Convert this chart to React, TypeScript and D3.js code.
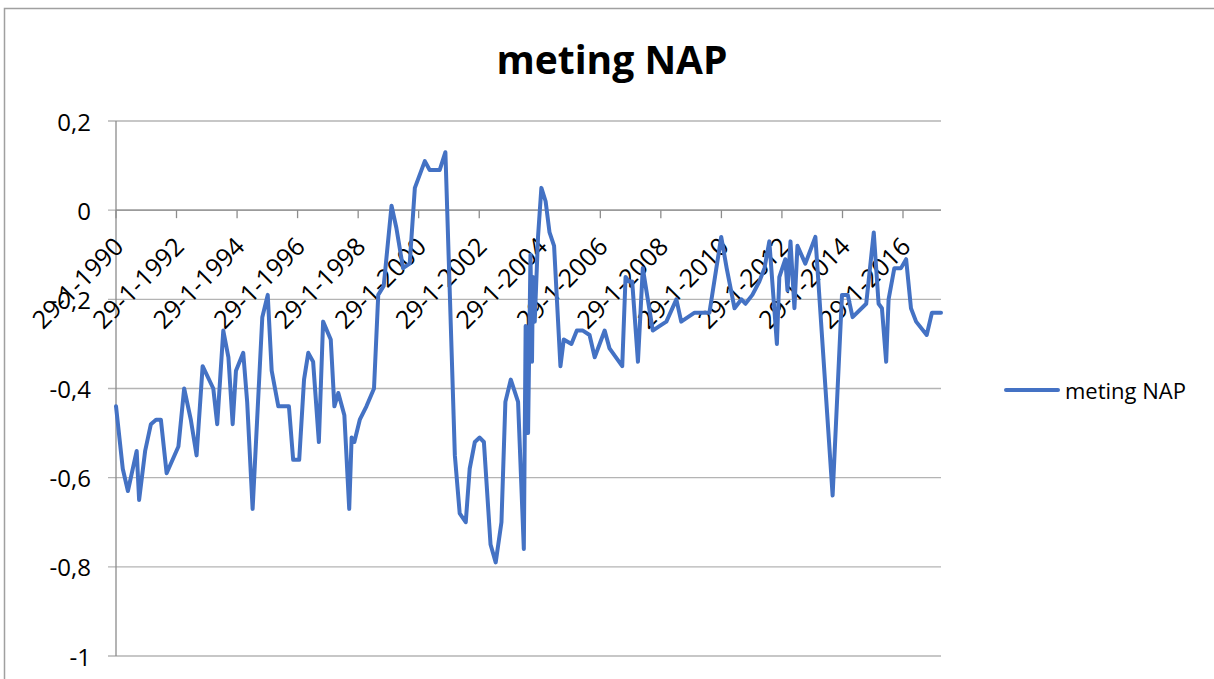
import React from 'react';
import * as d3 from 'd3';

const years = [
  1990.077, 1990.30, 1990.47, 1990.76, 1990.84, 1991.04, 1991.23, 1991.40, 1991.56, 1991.75,
  1992.14, 1992.33, 1992.55, 1992.74, 1992.94, 1993.29, 1993.42, 1993.62, 1993.79, 1993.93,
  1994.04, 1994.28, 1994.41, 1994.59, 1994.91, 1995.09, 1995.22, 1995.44, 1995.79, 1995.93,
  1996.13, 1996.29, 1996.43, 1996.59, 1996.78, 1996.92, 1997.17, 1997.29, 1997.42, 1997.62,
  1997.78, 1997.86, 1997.95, 1998.13, 1998.35, 1998.60, 1998.74, 1998.92, 1999.18, 1999.34,
  1999.56, 1999.78, 1999.95, 2000.28, 2000.44, 2000.77, 2000.96, 2001.27, 2001.43, 2001.63,
  2001.76, 2001.93, 2002.09, 2002.23, 2002.45, 2002.62, 2002.81, 2002.94, 2003.12, 2003.36,
  2003.55, 2003.61, 2003.69, 2003.77, 2003.82, 2003.85, 2003.91, 2004.02, 2004.13, 2004.27,
  2004.40, 2004.55, 2004.76, 2004.87, 2005.12, 2005.30, 2005.50, 2005.72, 2005.89, 2006.22,
  2006.38, 2006.80, 2006.91, 2007.02, 2007.13, 2007.32, 2007.48, 2007.81, 2008.03, 2008.26,
  2008.59, 2008.75, 2009.19, 2009.68, 2010.07, 2010.25, 2010.51, 2010.74, 2010.87, 2011.10,
  2011.33, 2011.50, 2011.66, 2011.91, 2011.99, 2012.09, 2012.19, 2012.26, 2012.36, 2012.49,
  2012.59, 2012.85, 2013.18, 2013.75, 2014.06, 2014.25, 2014.41, 2014.86, 2015.11, 2015.27,
  2015.38, 2015.52, 2015.60, 2015.79, 2016.01, 2016.18, 2016.34, 2016.51, 2016.86, 2017.03,
  2017.33,
];

const nap = [
  -0.44, -0.58, -0.63, -0.54, -0.65, -0.54, -0.48, -0.47, -0.47, -0.59,
  -0.53, -0.40, -0.47, -0.55, -0.35, -0.40, -0.48, -0.27, -0.33, -0.48,
  -0.36, -0.32, -0.43, -0.67, -0.24, -0.19, -0.36, -0.44, -0.44, -0.56,
  -0.56, -0.38, -0.32, -0.34, -0.52, -0.25, -0.29, -0.44, -0.41, -0.46,
  -0.67, -0.51, -0.52, -0.47, -0.44, -0.40, -0.19, -0.17, 0.01, -0.04,
  -0.13, -0.12, 0.05, 0.11, 0.09, 0.09, 0.13, -0.55, -0.68, -0.70,
  -0.58, -0.52, -0.51, -0.52, -0.75, -0.79, -0.70, -0.43, -0.38, -0.43,
  -0.76, -0.26, -0.50, -0.10, -0.34, -0.15, -0.25, -0.06, 0.05, 0.02,
  -0.05, -0.08, -0.35, -0.29, -0.30, -0.27, -0.27, -0.28, -0.33, -0.27,
  -0.31, -0.35, -0.15, -0.16, -0.16, -0.34, -0.13, -0.27, -0.26, -0.25,
  -0.20, -0.25, -0.23, -0.23, -0.06, -0.13, -0.22, -0.20, -0.21, -0.19,
  -0.16, -0.13, -0.07, -0.30, -0.15, -0.13, -0.11, -0.18, -0.07, -0.22,
  -0.08, -0.12, -0.06, -0.64, -0.19, -0.19, -0.24, -0.21, -0.05, -0.21,
  -0.22, -0.34, -0.20, -0.13, -0.13, -0.11, -0.22, -0.25, -0.28, -0.23,
  -0.23,
];

const xTickLabels = [
  '29-1-1990', '29-1-1992', '29-1-1994', '29-1-1996', '29-1-1998', '29-1-2000', '29-1-2002',
  '29-1-2004', '29-1-2006', '29-1-2008', '29-1-2010', '29-1-2012', '29-1-2014', '29-1-2016',
];

const yTicks = [0.2, 0, -0.2, -0.4, -0.6, -0.8, -1];

const seriesName = 'meting NAP';
const FONT = "'Open Sans', 'Noto Sans', sans-serif";

const yearToDate = (v: number) => {
  const yr = Math.floor(v);
  const start = new Date(yr, 0, 1).getTime();
  return new Date(start + (v - yr) * 365.25 * 864e5);
};

const parseTick = d3.timeParse('%d-%m-%Y');

export default function App() {
  const width = 1214;
  const height = 679;
  const plot = { left: 116, right: 941, top: 121, bottom: 656 };

  const data: [Date, number][] = years.map((yv, i) => [yearToDate(yv), nap[i]]);
  const tickDates = xTickLabels.map((s) => parseTick(s) as Date);

  const x = d3.scaleTime()
    .domain([tickDates[0], data[data.length - 1][0]])
    .range([plot.left, plot.right]);
  const y = d3.scaleLinear().domain([-1, 0.2]).range([plot.bottom, plot.top]);

  const line = d3.line<[Date, number]>()
    .x((d) => x(d[0]))
    .y((d) => y(d[1]))
    .curve(d3.curveLinear);

  const y0 = y(0);
  const gridColor = '#b4b4b4';
  const axisColor = '#8c8c8c';
  const fmt = (v: number) => String(v).replace('.', ',');

  return (
    <div style={{ position: 'absolute', left: 0, top: 0 }}>
      <svg width={width} height={height} style={{ display: 'block', background: '#fff' }}>
        {/* chart border */}
        <rect x={4.5} y={8.5} width={1300} height={800} fill="none" stroke="#a0a0a0" strokeWidth={1.5} />

        <text x={612} y={74} textAnchor="middle" fontFamily={FONT} fontWeight={700} fontSize={39} fill="#000">
          {seriesName}
        </text>

        {/* horizontal gridlines with left tick marks */}
        {yTicks.map((t) => (
          <g key={t}>
            <line x1={plot.left - 8} x2={plot.right} y1={y(t)} y2={y(t)} stroke={gridColor} strokeWidth={1.3} />
            <text x={91} y={y(t)} textAnchor="end" dominantBaseline="central"
              fontFamily={FONT} fontSize={24} fill="#000">
              {fmt(t)}
            </text>
          </g>
        ))}

        {/* vertical axis */}
        <line x1={plot.left} x2={plot.left} y1={plot.top} y2={plot.bottom} stroke={axisColor} strokeWidth={1.3} />

        {/* horizontal axis crossing at 0 */}
        <line x1={plot.left} x2={plot.right} y1={y0} y2={y0} stroke={axisColor} strokeWidth={1.3} />
        {tickDates.map((d, i) => {
          const tx = x(d);
          return (
            <g key={xTickLabels[i]}>
              <line x1={tx} x2={tx} y1={y0} y2={y0 + 8} stroke={axisColor} strokeWidth={1.3} />
              <text transform={`translate(${tx + 2},${y0 + 31}) rotate(-45)`} textAnchor="end"
                dominantBaseline="central" fontFamily={FONT} fontSize={25} fill="#000">
                {xTickLabels[i]}
              </text>
            </g>
          );
        })}

        <path d={line(data) || ''} fill="none" stroke="#4472c4" strokeWidth={4}
          strokeLinejoin="round" strokeLinecap="round" />

        {/* legend */}
        <line x1={1006} x2={1058} y1={390} y2={390} stroke="#4472c4" strokeWidth={4} strokeLinecap="round" />
        <text x={1065} y={390} dominantBaseline="central" fontFamily={FONT} fontSize={22} fill="#000">
          {seriesName}
        </text>
      </svg>
    </div>
  );
}
